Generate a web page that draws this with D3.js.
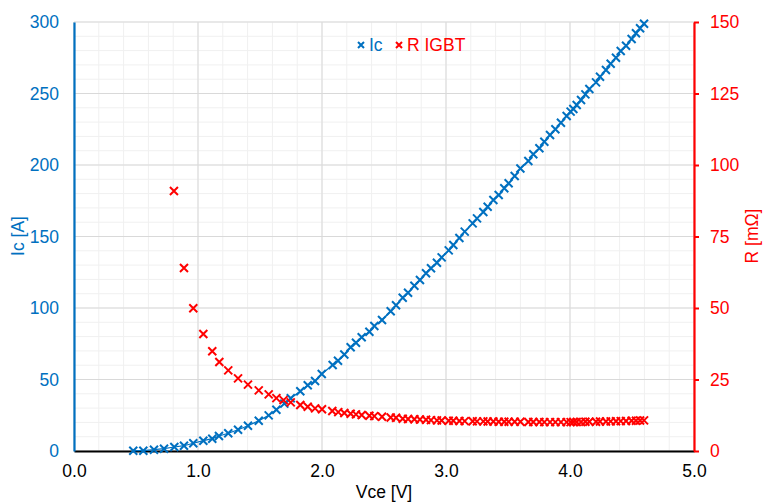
<!DOCTYPE html>
<html><head><meta charset="utf-8">
<script src="https://cdn.jsdelivr.net/npm/d3@7/dist/d3.min.js"></script>
<style>body{margin:0;background:#fff}svg{display:block}text{font-family:"Liberation Sans",Arial,sans-serif}</style>
</head><body><svg id="c" width="763" height="503"></svg>
<script>
// Ic series
const vceIc = [0.478,0.559,0.645,0.726,0.809,0.887,0.962,1.043,1.115,1.169,1.244,1.323,1.403,1.490,1.570,1.632,1.696,1.748,1.825,1.885,1.944,1.998,2.086,2.129,2.18,2.231,2.274,2.320,2.382,2.422,2.484,2.554,2.597,2.651,2.694,2.745,2.790,2.839,2.879,2.927,2.965,3.022,3.059,3.108,3.151,3.215,3.250,3.301,3.336,3.382,3.425,3.470,3.505,3.554,3.60,3.664,3.704,3.753,3.793,3.839,3.882,3.927,3.973,4.005,4.027,4.054,4.089,4.124,4.156,4.210,4.242,4.290,4.328,4.371,4.409,4.452,4.497,4.532,4.565,4.597];
const icValues = [0.2,0.2,0.9,1.6,2.8,3.7,5.4,7.2,8.6,10.5,12.4,14.9,17.7,21.2,24.9,28.9,33.1,36.9,41.8,46.0,49.0,53.8,60.1,63.1,67.5,72.5,75.7,79.5,83.4,87.4,91.6,97.7,101.9,107.2,110.7,115.6,119.6,124.3,127.8,131.7,135.4,140.3,144.1,149.0,153.4,159.2,162.7,167.1,170.8,175.5,179.0,183.7,187.2,192.3,197.6,202.8,207.5,211.7,216.3,221.0,225.0,229.6,234.3,237.3,239.2,242.0,245.5,249.4,253.1,257.8,261.7,266.4,270.8,275.0,279.7,283.4,288.1,292.1,295.6,298.8];
// R IGBT series
const vceR = [0.806,0.887,0.962,1.043,1.115,1.172,1.244,1.323,1.403,1.490,1.570,1.632,1.690,1.748,1.825,1.885,1.944,2.000,2.083,2.131,2.18,2.231,2.274,2.320,2.382,2.422,2.484,2.554,2.597,2.651,2.694,2.745,2.790,2.839,2.879,2.927,2.965,3.022,3.059,3.108,3.151,3.215,3.250,3.301,3.336,3.382,3.425,3.470,3.505,3.554,3.60,3.664,3.704,3.753,3.793,3.839,3.882,3.927,3.973,4.005,4.027,4.054,4.089,4.124,4.156,4.210,4.242,4.290,4.328,4.371,4.409,4.452,4.497,4.532,4.565,4.597];
const rValues = [90.9,64.0,49.9,40.9,34.9,31.1,28.2,25.4,23.2,21.2,19.8,18.5,17.8,17.0,16.1,15.5,14.9,14.6,14.0,13.6,13.3,13.0,12.8,12.6,12.3,12.2,12.0,11.7,11.6,11.3,11.2,11.1,11.0,10.9,10.8,10.7,10.65,10.6,10.55,10.5,10.45,10.4,10.35,10.35,10.3,10.3,10.25,10.25,10.25,10.2,10.2,10.15,10.15,10.15,10.1,10.1,10.1,10.1,10.1,10.1,10.15,10.15,10.15,10.2,10.2,10.25,10.3,10.3,10.35,10.4,10.45,10.5,10.55,10.6,10.65,10.7];
const xTicks = [0,1,2,3,4,5];
const yLeftTicks = [0,50,100,150,200,250,300];
const yRightTicks = [0,25,50,75,100,125,150];

const BLUE = "#0070C0", RED = "#FF0000";
const svg = d3.select("#c");
const L = 74, R = 694, T = 22, B = 451;
const x = d3.scaleLinear().domain([0,5]).range([L,R]);
const yL = d3.scaleLinear().domain([0,300]).range([B,T]);
const yR = d3.scaleLinear().domain([0,150]).range([B,T]);

// minor grid
const g = svg.append("g");
g.selectAll(".mx").data(d3.range(0,5.0001,0.2)).join("line")
  .attr("x1",d=>x(d)).attr("x2",d=>x(d)).attr("y1",T).attr("y2",B)
  .attr("stroke","#f0f0f0").attr("stroke-width",1);
g.selectAll(".my").data(d3.range(0,300.001,10)).join("line")
  .attr("x1",L).attr("x2",R).attr("y1",d=>yL(d)).attr("y2",d=>yL(d))
  .attr("stroke","#f0f0f0").attr("stroke-width",1);
// major grid
g.selectAll(".Mx").data(xTicks).join("line")
  .attr("x1",d=>x(d)).attr("x2",d=>x(d)).attr("y1",T).attr("y2",B)
  .attr("stroke","#d9d9d9").attr("stroke-width",1);
g.selectAll(".My").data(yLeftTicks).join("line")
  .attr("x1",L).attr("x2",R).attr("y1",d=>yL(d)).attr("y2",d=>yL(d))
  .attr("stroke","#d9d9d9").attr("stroke-width",1);

// axes
const fs = "17.5px";
const ax = svg.append("g").attr("transform",`translate(0,${B})`)
  .call(d3.axisBottom(x).tickValues(xTicks).tickFormat(d3.format(".1f")).tickSize(0).tickPadding(14));
ax.select(".domain").attr("stroke","#000").attr("stroke-width",2.2);
ax.selectAll("text").attr("fill","#000").style("font-size",fs).style("font-family","Liberation Sans, Arial");

const al = svg.append("g").attr("transform",`translate(${L},0)`)
  .call(d3.axisLeft(yL).tickValues(yLeftTicks).tickSize(0).tickPadding(15));
al.select(".domain").attr("stroke",BLUE).attr("stroke-width",2.2);
al.selectAll("text").attr("fill",BLUE).style("font-size",fs).style("font-family","Liberation Sans, Arial");

const ar = svg.append("g").attr("transform",`translate(${R},0)`)
  .call(d3.axisRight(yR).tickValues(yRightTicks).tickSizeInner(5).tickSizeOuter(0).tickPadding(11));
ar.select(".domain").attr("stroke",RED).attr("stroke-width",2.2);
ar.selectAll("line").attr("stroke",RED).attr("stroke-width",2);
ar.selectAll("text").attr("fill",RED).style("font-size",fs).style("font-family","Liberation Sans, Arial");

// axis titles
svg.append("text").attr("transform","translate(24,236) rotate(-90)").attr("text-anchor","middle")
  .attr("fill",BLUE).style("font-size",fs).text("Ic [A]");
svg.append("text").attr("transform","translate(758,236) rotate(-90)").attr("text-anchor","middle")
  .attr("fill",RED).style("font-size",fs).text("R [mΩ]");
svg.append("text").attr("x",384).attr("y",498).attr("text-anchor","middle")
  .attr("fill","#000").style("font-size",fs).text("Vce [V]");

// cross marker path
function cross(cx,cy,s){return `M${cx-s},${cy-s}L${cx+s},${cy+s}M${cx-s},${cy+s}L${cx+s},${cy-s}`;}

// Ic line
const icData = vceIc.map((v,i)=>[v,icValues[i]]);
svg.append("path").datum(icData)
  .attr("d",d3.line().x(d=>x(d[0])).y(d=>yL(d[1])))
  .attr("fill","none").attr("stroke",BLUE).attr("stroke-width",1.2);
svg.append("g").selectAll("path").data(icData).join("path")
  .attr("d",d=>cross(x(d[0]),yL(d[1]),4))
  .attr("stroke",BLUE).attr("stroke-width",2).attr("fill","none");

// R markers
const rData = vceR.map((v,i)=>[v,rValues[i]]);
svg.append("g").selectAll("path").data(rData).join("path")
  .attr("d",d=>cross(x(d[0]),yR(d[1]),4))
  .attr("stroke",RED).attr("stroke-width",2).attr("fill","none");

// legend
const lg = svg.append("g");
lg.append("path").attr("d",cross(361,45,3)).attr("stroke",BLUE).attr("stroke-width",2);
lg.append("text").attr("x",369).attr("y",51).attr("fill",BLUE).style("font-size",fs).text("Ic");
lg.append("path").attr("d",cross(399,45,3)).attr("stroke",RED).attr("stroke-width",2);
lg.append("text").attr("x",407).attr("y",51).attr("fill",RED).style("font-size",fs).text("R IGBT");
</script></body></html>
